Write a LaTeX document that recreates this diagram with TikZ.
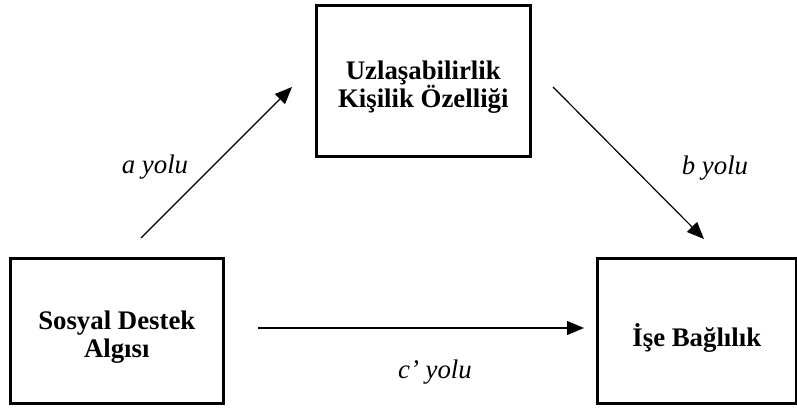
\documentclass[tikz,border=0pt]{standalone}
\usepackage{fontspec}
\setmainfont{Liberation Serif}
\usetikzlibrary{arrows.meta}
\begin{document}
\begin{tikzpicture}[x=1pt,y=-1pt,
  box/.style={draw=black,line width=2.6pt,minimum width=#1,inner sep=0pt,anchor=north west},
  txt/.style={font=\bfseries\fontsize{26.8}{28}\selectfont,align=center,inner sep=0pt},
  lbl/.style={font=\itshape\fontsize{26.8}{28}\selectfont,inner sep=0pt},
  arr/.style={line width=1.2pt,-{Triangle[length=17pt,width=14pt]}}]
\useasboundingbox (0,0) rectangle (797,410);
\node[box=214pt,minimum height=151pt] (topbox) at (315,4) {};
\node[box=213pt,minimum height=145pt] (leftbox) at (9,257) {};
\node[box=199pt,minimum height=145pt] (rightbox) at (596,257) {};
\node[txt] (toptext) at ([yshift=-6pt]topbox.center) {Uzlaşabilirlik\\Kişilik Özelliği};
\node[txt] (lefttext) at ([yshift=-6pt]leftbox.center) {Sosyal Destek\\Algısı};
\node[txt] (righttext) at ([yshift=-7pt]rightbox.center) {İşe Bağlılık};
\coordinate (aS) at (141,238);
\coordinate (aE) at (292,87);
\coordinate (bS) at (553,87);
\coordinate (bE) at (704,239);
\coordinate (cS) at (258,328);
\coordinate (cE) at (584,328);
\draw[arr] (aS) -- (aE);
\draw[arr] (bS) -- (bE);
\draw[arr] (cS) -- (cE);
\node[lbl] (alabel) at (155,167) {a yolu};
\node[lbl] (blabel) at (715,168) {b yolu};
\node[lbl] (clabel) at (435,372) {c’ yolu};
\end{tikzpicture}
\end{document}
